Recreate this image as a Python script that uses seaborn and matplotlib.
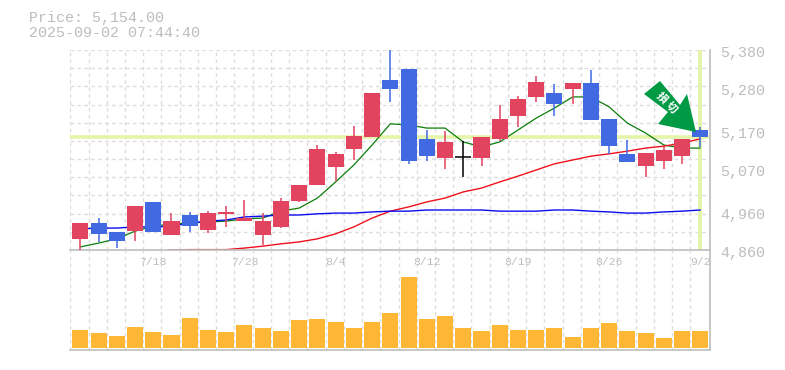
import matplotlib
matplotlib.use('Agg')
import matplotlib.pyplot as plt
from matplotlib.patches import Polygon
import seaborn as sns

# daily candles, 7/14 to 9/2
opens = [4889, 4930, 4907, 4909, 4985, 4899, 4951, 4912, 4954, 4935, 4899, 4920, 4987, 5029, 5076, 5123, 5154, 5302,
         5331, 5149, 5099, 5102, 5099, 5149, 5208, 5258, 5268, 5279, 5294, 5201, 5110, 5078, 5091, 5104, 5172]
closes = [4930, 4902, 4883, 4974, 4907, 4935, 4922, 4956, 4959, 4943, 4935, 4987, 5029, 5123, 5110, 5156, 5268, 5279,
          5091, 5104, 5141, 5102, 5154, 5201, 5253, 5297, 5240, 5294, 5198, 5130, 5089, 5112, 5120, 5149, 5154]
highs = [4930, 4943, 4907, 4974, 4985, 4956, 4959, 4961, 4974, 4990, 4956, 4995, 5029, 5133, 5115, 5182, 5268, 5385,
         5331, 5172, 5169, 5143, 5154, 5237, 5260, 5312, 5292, 5294, 5328, 5201, 5146, 5112, 5128, 5149, 5180]
lows = [4860, 4881, 4865, 4883, 4907, 4899, 4907, 4904, 4920, 4935, 4873, 4917, 4985, 5029, 5039, 5094, 5154, 5245,
        5084, 5091, 5071, 5050, 5078, 5143, 5180, 5245, 5208, 5240, 5198, 5110, 5089, 5050, 5071, 5084, 5128]
volumes = [18, 15, 12, 21, 16, 13, 30, 18, 16, 23, 20, 17, 28, 29, 26, 20, 26, 35,
           71, 29, 32, 20, 17, 23, 18, 18, 20, 11, 20, 25, 17, 15, 10, 17, 17]

ma_short = [4868, 4878, 4889, 4909, 4922, 4928, 4930, 4933, 4935, 4941, 4943, 4961, 4969, 4995, 5037, 5081, 5133, 5188,
            5185, 5177, 5177, 5141, 5128, 5141, 5172, 5203, 5229, 5258, 5258, 5232, 5190, 5164, 5133, 5125, 5125]
ma_mid = [4855, 4855, 4855, 4855, 4855, 4860, 4861, 4861, 4861, 4865, 4870, 4876, 4881, 4889, 4902, 4920, 4943, 4961,
          4972, 4985, 4995, 5011, 5021, 5037, 5052, 5068, 5084, 5094, 5104, 5110, 5117, 5125, 5130, 5138, 5149]
ma_long = [4915, 4917, 4917, 4920, 4920, 4922, 4930, 4935, 4938, 4946, 4948, 4951, 4951, 4954, 4956, 4956, 4959, 4961,
           4961, 4964, 4964, 4964, 4964, 4961, 4961, 4961, 4964, 4964, 4961, 4959, 4956, 4956, 4959, 4961, 4964]

date_ticks = [4, 9, 14, 19, 24, 29, 34]
date_labels = ['7/18', '7/28', '8/4', '8/12', '8/19', '8/26', '9/2']
price_ticks = [5380, 5280, 5170, 5070, 4960, 4860]
price_labels = ['5,380', '5,280', '5,170', '5,070', '4,960', '4,860']
last_price = 5154

RED = '#e2435f'
BLUE = '#416ae2'
GREY = '#bdbdbd'
GRID = '#dcdcdc'
HILITE = '#e4f5a9'

sns.set_style('white')
plt.rcParams['font.family'] = ['Liberation Mono', 'Noto Sans CJK JP', 'DejaVu Sans']

W, H = 785, 370
fig = plt.figure(figsize=(W / 100, H / 100), dpi=100)


def box(left, top, right, bottom):
    return [left / W, 1 - bottom / H, (right - left) / W, (bottom - top) / H]


ax = fig.add_axes(box(70, 50, 710, 250))
ax_vol = fig.add_axes(box(70, 250, 710, 350))
xlim = (-0.565, 34.53)
days = list(range(len(closes)))

# price panel
ax.set_ylim(4860, 5380)
ax.axhline(last_price, color=HILITE, linewidth=2.6, zorder=1.5)
ax.axvline(days[-1], ymin=0.005, color=HILITE, linewidth=2.8, zorder=1.5)

sns.lineplot(x=days, y=ma_short, ax=ax, color='#0a7d0a', linewidth=0.9, zorder=2)
sns.lineplot(x=days, y=ma_mid, ax=ax, color='#f0101c', linewidth=1, zorder=2)
sns.lineplot(x=days, y=ma_long, ax=ax, color='#0b0bf0', linewidth=1, zorder=2)

for i in days:
    o, c = opens[i], closes[i]
    color = RED if c > o else BLUE if c < o else 'black'
    ax.vlines(i, lows[i], highs[i], color=color, linewidth=1.1, zorder=3)
    if c == o:
        ax.hlines(c, i - 0.44, i + 0.44, color=color, linewidth=1.1, zorder=3)
    else:
        ax.bar(i, abs(c - o), bottom=min(o, c), width=0.88, color=color, linewidth=0, zorder=3)

# volume panel
sns.barplot(x=days, y=volumes, ax=ax_vol, native_scale=True, color='#ffb735', saturation=1, width=0.88, linewidth=0, zorder=2)
ax_vol.set_ylim(-2.3, 97.7)
ax_vol.set_xlabel('')
ax_vol.set_ylabel('')
ax_vol.patch.set_visible(False)

ax.set_yticks([5380 - 520 * k / 11 for k in range(12)])
ax.set_ylim(4860, 5380)
ax.grid(axis='y', color=GRID, linestyle=(0, (2.5, 2.5)), linewidth=1)

for a in (ax, ax_vol):
    a.set_xlim(xlim)
    a.set_xticks([k - 0.55 for k in range(35)])
    a.grid(axis='x', color=GRID, linestyle=(0, (2.5, 2.5)), linewidth=1)
    a.set_axisbelow(True)
    sns.despine(ax=a, left=True, top=True, right=False, bottom=False)
    a.tick_params(length=0, labelbottom=False, labelleft=False, labelright=False)
    for side in ('right', 'bottom'):
        a.spines[side].set_color(GREY)
        a.spines[side].set_linewidth(1.2)


def px(x, y):
    return (x / W, 1 - y / H)


for i, label in zip(date_ticks, date_labels):
    ax_vol.annotate(label, (i, 1), xycoords=('data', 'axes fraction'), xytext=(0, -12), textcoords='offset pixels',
                    ha='center', va='center', fontsize=8.2, color='#bfbfbf', annotation_clip=False)

for price, label in zip(price_ticks, price_labels):
    ax.annotate(label, (1, (price - 4860) / 520), xycoords='axes fraction', xytext=(10, -3), textcoords='offset pixels',
                ha='left', va='center', fontsize=10.8, color=GREY, annotation_clip=False)

fig.text(*px(29, 18), 'Price: 5,154.00', ha='left', va='center', fontsize=10.8, color=GREY)
fig.text(*px(29, 33), '2025-09-02 07:44:40', ha='left', va='center', fontsize=10.8, color=GREY)

# signal arrow
arrow = [(696, 132), (658, 124), (668, 112), (644, 94), (660, 81), (680, 105), (687, 94)]
fig.add_artist(Polygon([px(*p) for p in arrow], closed=True, transform=fig.transFigure, color='#009944', linewidth=0, zorder=5))
fig.text(*px(667, 102), '損 切', rotation=-45, rotation_mode='anchor', ha='center', va='center', fontsize=8,
         color='white', fontweight='bold', family=['Noto Sans CJK JP', 'DejaVu Sans'], zorder=6)

fig.savefig('out.png', dpi=100)
